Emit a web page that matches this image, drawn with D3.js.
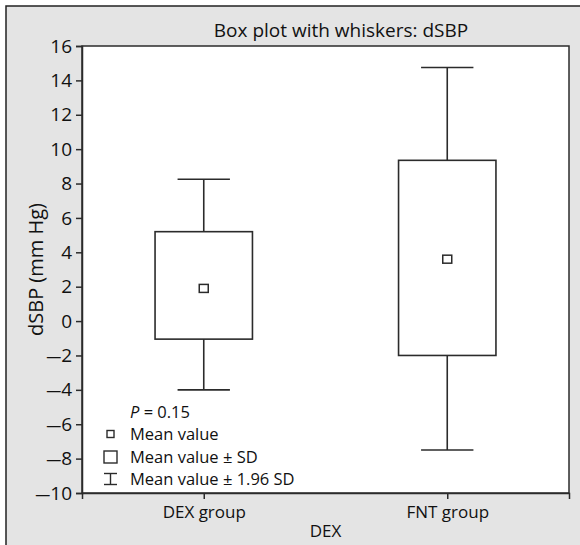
<!DOCTYPE html>
<html><head><meta charset="utf-8">
<script src="https://cdn.jsdelivr.net/npm/d3@7"></script>
<style>body{margin:0;background:#fff}svg{display:block}text{font-family:"Open Sans","Noto Sans",sans-serif;fill:#111}</style>
</head><body><svg id="c" width="580" height="545"></svg>
<script>
const categories = ["DEX group", "FNT group"];
const means = [1.9, 3.6];
const sdLow = [-1.05, -2.0];
const sdHigh = [5.2, 9.35];
const whiskLow = [-4.0, -7.5];
const whiskHigh = [8.25, 14.75];
const yTicks = [-10,-8,-6,-4,-2,0,2,4,6,8,10,12,14,16];
const legendItems = ["Mean value", "Mean value \u00b1 SD", "Mean value \u00b1 1.96 SD"];

const svg = d3.select("#c");
const W = 580, H = 545;
const m = {l:82, t:46, r:569, b:493};
const ink = "#2b2b2b";

svg.append("rect").attr("x",6).attr("y",6).attr("width",W).attr("height",H)
  .attr("fill","#e4e4e4").attr("stroke","#222").attr("stroke-width",1.5);

const x = d3.scalePoint().domain(categories).range([m.l, m.r]).padding(0.5);
const y = d3.scaleLinear().domain([-10,16]).range([m.b, m.t]);
const step = x.step();

svg.append("rect").attr("x",m.l).attr("y",m.t).attr("width",m.r-m.l).attr("height",m.b-m.t)
  .attr("fill","#fff").attr("stroke",ink).attr("stroke-width",1.5);

svg.append("text").attr("x",341).attr("y",37).attr("text-anchor","middle")
  .attr("font-size",19).text("Box plot with whiskers: dSBP");

const ya = svg.append("g").attr("transform",`translate(${m.l},0)`)
  .call(d3.axisLeft(y).tickValues(yTicks).tickSize(6).tickPadding(4).tickFormat(d=>d));
ya.select(".domain").attr("stroke",ink).attr("stroke-width",1.5);
ya.selectAll(".tick line").attr("stroke",ink).attr("stroke-width",1.5);
ya.selectAll(".tick text").attr("font-size",19).attr("fill","#111").attr("font-family","'Open Sans',sans-serif")
  .each(function(d){
    const t = d3.select(this); t.text(null);
    if (d < 0) t.append("tspan").attr("font-size",15).text("\u2014");
    t.append("tspan").text(Math.abs(d));
  });

const xa = svg.append("g").attr("transform",`translate(0,${m.b})`)
  .call(d3.axisBottom(x).tickSize(6).tickPadding(7));
xa.select(".domain").attr("stroke",ink).attr("stroke-width",1.5);
xa.selectAll(".tick line").attr("stroke",ink).attr("stroke-width",1.5);
xa.selectAll(".tick text").attr("font-size",17).attr("fill","#111").attr("font-family","'Open Sans',sans-serif");

svg.append("text").attr("x",(m.l+m.r)/2).attr("y",537).attr("text-anchor","middle")
  .attr("font-size",17).text("DEX");
svg.append("text").attr("transform",`translate(43,${(m.t+m.b)/2}) rotate(-90)`)
  .attr("text-anchor","middle").attr("font-size",20).text("dSBP (mm Hg)");

const boxW = step*0.4, capW = step*0.215;
const g = svg.append("g").attr("stroke",ink).attr("stroke-width",1.6).attr("fill","none");
categories.forEach((c,i)=>{
  const cx = x(c);
  g.append("line").attr("x1",cx).attr("x2",cx).attr("y1",y(whiskHigh[i])).attr("y2",y(sdHigh[i]));
  g.append("line").attr("x1",cx).attr("x2",cx).attr("y1",y(sdLow[i])).attr("y2",y(whiskLow[i]));
  g.append("line").attr("x1",cx-capW/2).attr("x2",cx+capW/2).attr("y1",y(whiskHigh[i])).attr("y2",y(whiskHigh[i]));
  g.append("line").attr("x1",cx-capW/2).attr("x2",cx+capW/2).attr("y1",y(whiskLow[i])).attr("y2",y(whiskLow[i]));
  g.append("rect").attr("x",cx-boxW/2).attr("y",y(sdHigh[i])).attr("width",boxW).attr("height",y(sdLow[i])-y(sdHigh[i]));
  g.append("rect").attr("x",cx-4.5).attr("y",y(means[i])-4).attr("width",9).attr("height",8).attr("stroke-width",1.5);
});

// legend
svg.append("text").attr("x",130).attr("y",418).attr("font-size",16.5)
  .html('<tspan font-style="italic">P</tspan> = 0.15');
const ly = [434, 457, 479];
legendItems.forEach((t,i)=>{
  svg.append("text").attr("x",130).attr("y",ly[i]+6).attr("font-size",16.5).text(t);
});
const lg = svg.append("g").attr("stroke",ink).attr("stroke-width",1.4).attr("fill","none");
lg.append("rect").attr("x",107).attr("y",ly[0]-3.5).attr("width",7).attr("height",7);
lg.append("rect").attr("x",104).attr("y",ly[1]-6).attr("width",13).attr("height",12);
lg.append("line").attr("x1",110.5).attr("x2",110.5).attr("y1",ly[2]-5.5).attr("y2",ly[2]+5.5);
lg.append("line").attr("x1",104).attr("x2",117).attr("y1",ly[2]-5.5).attr("y2",ly[2]-5.5);
lg.append("line").attr("x1",104).attr("x2",117).attr("y1",ly[2]+5.5).attr("y2",ly[2]+5.5);
</script></body></html>
